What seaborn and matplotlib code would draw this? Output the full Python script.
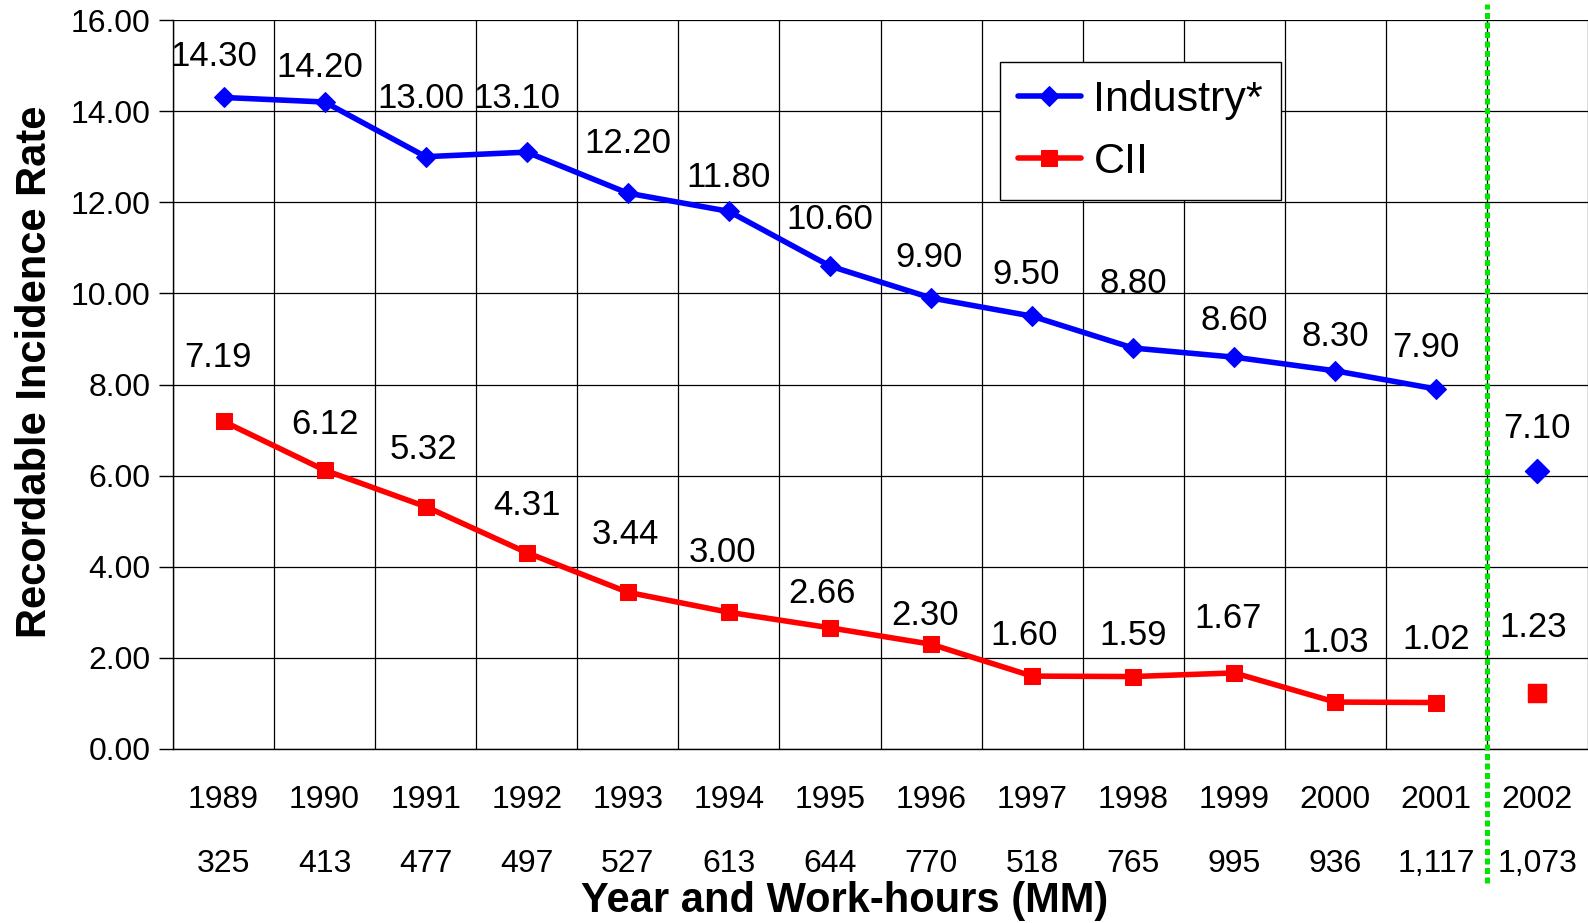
import matplotlib
matplotlib.use("Agg")
import matplotlib.pyplot as plt
import matplotlib.transforms as mtransforms
import numpy as np
import pandas as pd
import seaborn as sns

# ---- data ----
years = ["1989", "1990", "1991", "1992", "1993", "1994", "1995",
         "1996", "1997", "1998", "1999", "2000", "2001", "2002"]
work_hours = ["325", "413", "477", "497", "527", "613", "644",
              "770", "518", "765", "995", "936", "1,117", "1,073"]
industry = [14.30, 14.20, 13.00, 13.10, 12.20, 11.80, 10.60,
            9.90, 9.50, 8.80, 8.60, 8.30, 7.90, 6.10]
industry_labels = ["14.30", "14.20", "13.00", "13.10", "12.20", "11.80", "10.60",
                   "9.90", "9.50", "8.80", "8.60", "8.30", "7.90", "7.10"]
cii = [7.19, 6.12, 5.32, 4.31, 3.44, 3.00, 2.66,
       2.30, 1.60, 1.59, 1.67, 1.03, 1.02, 1.23]
cii_labels = ["7.19", "6.12", "5.32", "4.31", "3.44", "3.00", "2.66",
              "2.30", "1.60", "1.59", "1.67", "1.03", "1.02", "1.23"]
y_ticks = [0, 2, 4, 6, 8, 10, 12, 14, 16]

# label offsets (pixels above point)
ind_dy = [41, 35, 58, 54, 50, 34, 47, 40, 42, 65, 37, 34, 42, 43]
ind_dx = [-10, -5, -5, -10, 0, 0, 0, -2, -6, 0, 0, 0, -10, 0]
cii_dy = [64, 46, 57, 47, 58, 60, 34, 29, 41, 41, 54, 60, 63, 65]
cii_dx = [-6, 0, -2, 0, -2, -6, -8, -6, -8, 0, -6, 0, 0, -4]

sns.set_style("white")
plt.rcParams["font.family"] = ["Liberation Sans", "DejaVu Sans"]
for k in ["text.color", "axes.labelcolor", "xtick.color", "ytick.color"]:
    plt.rcParams[k] = "black"

fig = plt.figure(figsize=(15.88, 9.23), dpi=100)
ax = fig.add_axes([173 / 1588, 1 - 749 / 923, 1 - 173 / 1588, (749 - 20) / 923])

x = np.arange(len(years))
n_line = 13
df_ind = pd.DataFrame({"x": x[:n_line], "y": industry[:n_line]})
df_cii = pd.DataFrame({"x": x[:n_line], "y": cii[:n_line]})

blue = "#0000FF"
red = "#FF0000"

sns.lineplot(data=df_ind, x="x", y="y", ax=ax, color=blue, linewidth=4.0,
             marker="D", markersize=10.5, markeredgecolor=blue, label="Industry*",
             zorder=5)
sns.lineplot(data=df_cii, x="x", y="y", ax=ax, color=red, linewidth=4.0,
             marker="s", markersize=12, markeredgecolor=red, label="CII",
             zorder=5)
sns.scatterplot(x=[x[-1]], y=[industry[-1]], ax=ax, color=blue, marker="D",
                s=150, edgecolor=blue, zorder=5, legend=False)
sns.scatterplot(x=[x[-1]], y=[cii[-1]], ax=ax, color=red, marker="s",
                s=170, edgecolor=red, zorder=5, legend=False)

# data labels
for i in range(len(years)):
    ax.annotate(industry_labels[i], (x[i], industry[i]), xytext=(ind_dx[i], ind_dy[i]),
                textcoords="offset pixels", ha="center", va="center",
                fontsize=25, color="black", zorder=6)
    ax.annotate(cii_labels[i], (x[i], cii[i]), xytext=(cii_dx[i], cii_dy[i]),
                textcoords="offset pixels", ha="center", va="center",
                fontsize=25, color="black", zorder=6)

ax.set_xlim(-0.5, len(years) - 0.5)
ax.set_ylim(0, 16)
ax.set_yticks(y_ticks)
ax.set_yticklabels([f"{v:.2f}" for v in y_ticks], fontsize=23)
ax.set_xticks(x)
ax.set_xticklabels(years, fontsize=23)
ax.set_xticks(np.arange(-0.5, len(years), 1.0), minor=True)

ax.tick_params(axis="y", which="major", length=10, width=1, direction="out",
               color="black", pad=6, left=True)
ax.tick_params(axis="x", which="both", length=0, pad=26, bottom=True)

ax.grid(True, axis="y", which="major", color="black", linewidth=0.9)
ax.grid(True, axis="x", which="minor", color="black", linewidth=0.9)
ax.grid(False, axis="x", which="major")
ax.set_axisbelow(True)

for s in ["top", "right"]:
    ax.spines[s].set_visible(False)
for s in ["left", "bottom"]:
    ax.spines[s].set_color("black")
    ax.spines[s].set_linewidth(1.0)

# work-hours row
trans = mtransforms.blended_transform_factory(ax.transData, ax.transAxes)
for i, wh in enumerate(work_hours):
    ax.text(x[i], -(864 - 749) / 729, wh, transform=trans, ha="center",
            va="center", fontsize=23, color="black")

# green dotted separator
ax.plot([12.5, 12.5], [-(883 - 749) / 729, (749 - 4) / 729], transform=trans,
        color="#00E600", linewidth=3.6, linestyle=(0, (1.2, 0.7)),
        clip_on=False, zorder=7)

ax.set_xlabel("")
ax.set_ylabel("")
fig.text(35 / 1588, 1 - 372 / 923, "Recordable Incidence Rate", rotation=90,
         ha="center", va="center", fontsize=30, fontweight="bold")
fig.text(845 / 1588, 1 - 901 / 923, "Year and Work-hours (MM)",
         ha="center", va="center", fontsize=30, fontweight="bold")

leg = ax.legend(loc="upper left", bbox_to_anchor=(1000 / 1588, 1 - 62 / 923),
                bbox_transform=fig.transFigure, borderaxespad=0, fontsize=31,
                frameon=True, fancybox=False, edgecolor="black", framealpha=1,
                handlelength=1.45, handletextpad=0.3, borderpad=0.42,
                labelspacing=0.5)
leg.get_frame().set_linewidth(1.0)

fig.savefig("out.png", dpi=100)
